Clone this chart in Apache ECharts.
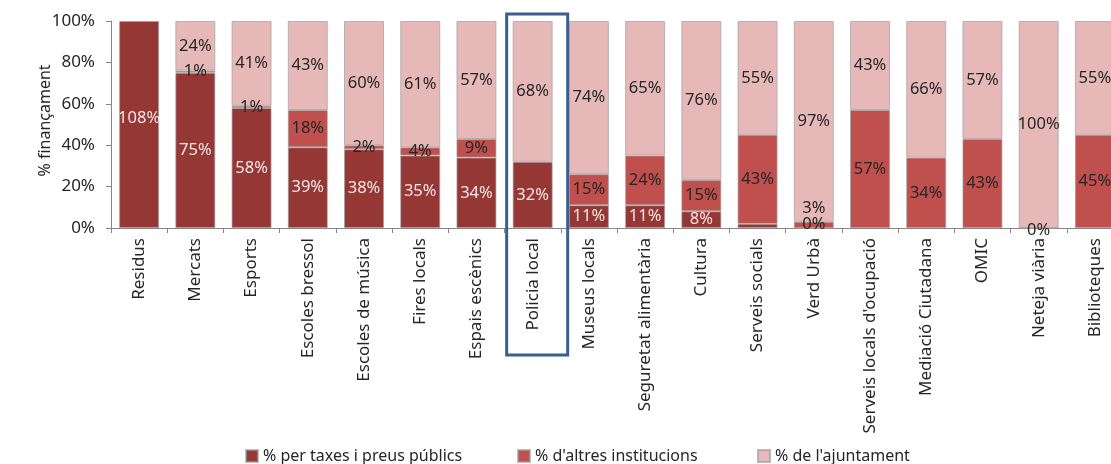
<!DOCTYPE html>
<html>
<head>
<meta charset="utf-8">
<script src="https://cdn.jsdelivr.net/npm/echarts@6/dist/echarts.min.js"></script>
<style>
html,body{margin:0;padding:0;background:#fff;}
#c{width:1111px;height:464px;}
</style>
</head>
<body>
<div id="c"></div>
<script>
const categories = ['Residus','Mercats','Esports','Escoles bressol','Escoles de música','Fires locals','Espais escènics','Policia local','Museus locals','Seguretat alimentària','Cultura','Serveis socials','Verd Urbà',"Serveis locals d'ocupació",'Mediació Ciutadana','OMIC','Neteja viària','Biblioteques'];
const taxes      = [108, 75, 58, 39, 38, 35, 34, 32, 11, 11, 8, 2, 0, null, null, null, 0, null];
const altres     = [null, 1, 1, 18, 2, 4, 9, null, 15, 24, 15, 43, 3, 57, 34, 43, null, 45];
const ajuntament = [null, 24, 41, 43, 60, 61, 57, 68, 74, 65, 76, 55, 97, 43, 66, 57, 100, 55];
const yTicks = [0, 20, 40, 60, 80, 100];
const seriesNames = ['% per taxes i preus públics', "% d'altres institucions", "% de l'ajuntament"];
const colors = ['#953735', '#c0504d', '#e6b9b8'];

const FONT = 'Noto Sans';
const seriesData = [taxes, altres, ajuntament];
// 100% stacked: each column normalised by its total (as in the original spreadsheet chart)
const totals = categories.map((_, i) => seriesData.reduce((s, a) => s + (a[i] || 0), 0));

function build(arr, si) {
  return arr.map((v, i) => {
    if (v === null) return '-';
    const item = { value: v / totals[i] * 100, raw: v };
    const cat = categories[i];
    if (si === 0 && cat === 'Serveis socials') item.label = { show: false };
    if (si === 0 && cat === 'Verd Urbà') item.label = { offset: [0, -4], color: '#262626' };
    if (si === 0 && cat === 'Neteja viària') item.label = { offset: [0, 2], color: '#262626' };
    if (si === 1 && cat === 'Verd Urbà') item.label = { offset: [0, -17] };
    if (si === 0 && cat === 'Residus') item.label = { offset: [0, -6] };
    return item;
  });
}

const legendLefts = [240, 512, 752];

const chart = echarts.init(document.getElementById('c'), null, { renderer: 'canvas' });
const option = {
  animation: false,
  grid: { left: 111, width: 1012, top: 21, bottom: 236, containLabel: false, outerBoundsMode: 'none' },
  legend: seriesNames.map((n, i) => ({
    left: legendLefts[i], top: 443,
    itemWidth: 12, itemHeight: 12,
    icon: 'rect',
    textStyle: { fontFamily: FONT, fontSize: 16, color: '#262626' },
    data: [n]
  })),
  xAxis: {
    type: 'category',
    data: categories,
    axisLine: { lineStyle: { color: '#868686', width: 1 } },
    axisTick: { show: true, length: 5, lineStyle: { color: '#868686' } },
    axisLabel: { rotate: 90, interval: 0, margin: 10, fontFamily: FONT, fontSize: 17, color: '#262626' }
  },
  yAxis: {
    type: 'value',
    min: 0, max: 100, interval: 20,
    name: '% finançament',
    nameLocation: 'middle',
    nameRotate: 90,
    nameGap: 58,
    nameMoveOverlap: false,
    nameTextStyle: { fontFamily: FONT, fontSize: 16, color: '#262626', padding: [0, 0, 0, 8] },
    axisLine: { show: true, lineStyle: { color: '#868686' } },
    axisTick: { show: true, length: 5, lineStyle: { color: '#868686' } },
    splitLine: { show: false },
    axisLabel: { margin: 16, fontFamily: FONT, fontSize: 17, color: '#262626', formatter: v => yTicks.includes(v) ? v + '%' : '' }
  },
  series: seriesData.map((arr, si) => ({
    name: seriesNames[si],
    type: 'bar',
    stack: 'total',
    barWidth: 40,
    clip: true,
    data: build(arr, si),
    itemStyle: { color: colors[si], borderColor: 'rgba(160,160,160,0.7)', borderWidth: 1 },
    label: {
      show: true,
      position: 'inside',
      fontFamily: FONT,
      fontSize: 16.5,
      color: si === 0 ? '#f5e6e6' : '#262626',
      formatter: p => p.data.raw + '%'
    }
  }))
};
chart.setOption(option);

const cx = chart.convertToPixel({ xAxisIndex: 0 }, 'Policia local');
chart.setOption({
  graphic: [{
    type: 'rect',
    shape: { x: cx - 26, y: 14, width: 61, height: 341 },
    style: { fill: 'none', stroke: '#3b5f8e', lineWidth: 3 },
    z: 100
  }]
});
</script>
</body>
</html>
